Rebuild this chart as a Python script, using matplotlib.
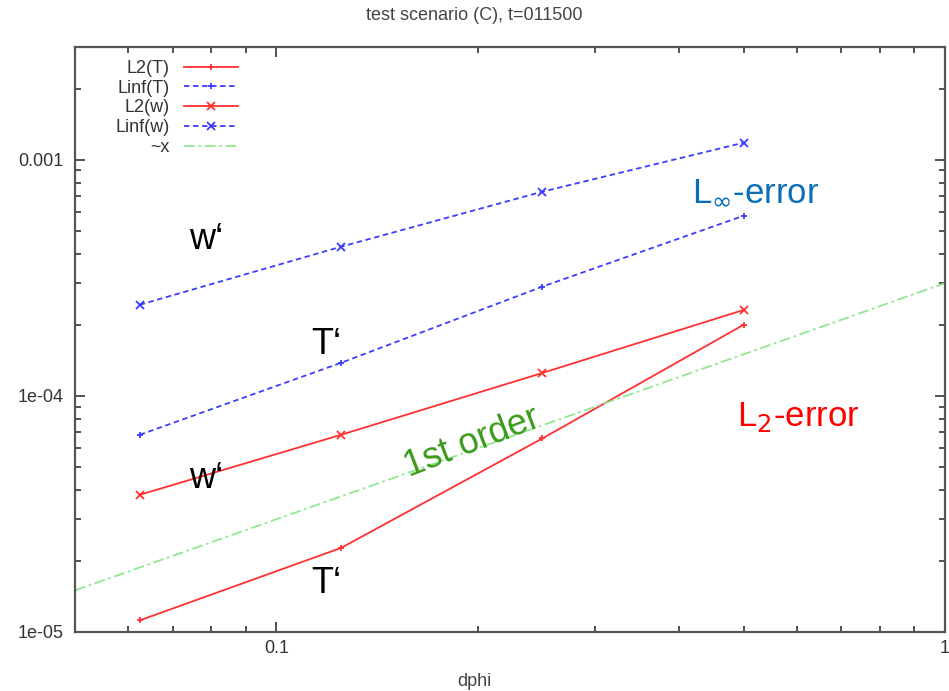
import numpy as np
import matplotlib.pyplot as plt
from matplotlib.ticker import FixedLocator, LogLocator, NullFormatter

plt.rcParams['font.family'] = ['Liberation Sans', 'DejaVu Sans']

# grid spacing and measured errors
dphi = [0.0625, 0.125, 0.25, 0.5]
l2_T = [1.12e-5, 2.27e-5, 6.6e-5, 2.0e-4]
linf_T = [6.84e-5, 1.38e-4, 2.90e-4, 5.79e-4]
l2_w = [3.81e-5, 6.84e-5, 1.25e-4, 2.31e-4]
linf_w = [2.43e-4, 4.28e-4, 7.32e-4, 1.18e-3]

# first order reference ~x
ref_x = [0.05, 1.0]
ref_coef = 3.0e-4

yticks = [1e-5, 1e-4, 1e-3]
ytick_labels = ['1e-05', '1e-04', '0.001']
xticks = [0.1, 1]
xtick_labels = ['0.1', '1']

fig = plt.figure(figsize=(9.49, 6.91), dpi=100)
ax = fig.add_axes([0.079, 0.0854, 0.9168, 0.8466])

red = '#ff3030'
blue = '#3c3cff'
green = '#90e890'

l1, = ax.plot(dphi, l2_T, '-', color=red, marker='+', ms=5, mew=1.3, lw=1.3, label='L2(T)')
l2, = ax.plot(dphi, linf_T, '--', color=blue, marker='+', ms=5, mew=1.3, lw=1.3,
              dashes=(3, 2), label='Linf(T)')
l3, = ax.plot(dphi, l2_w, '-', color=red, marker='x', ms=6, mew=1.3, lw=1.3, label='L2(w)')
l4, = ax.plot(dphi, linf_w, '--', color=blue, marker='x', ms=6, mew=1.3, lw=1.3,
              dashes=(3, 2), label='Linf(w)')
l5, = ax.plot(ref_x, [ref_coef * x for x in ref_x], color=green, lw=1.3,
              dashes=(6, 2, 1.5, 2), label='~x')

ax.set_xscale('log')
ax.set_yscale('log')
ax.set_xlim(0.05, 1)
ax.set_ylim(1e-5, 3e-3)

ax.xaxis.set_major_locator(FixedLocator(xticks))
ax.set_xticklabels(xtick_labels)
ax.yaxis.set_major_locator(FixedLocator(yticks))
ax.set_yticklabels(ytick_labels)
ax.xaxis.set_minor_locator(LogLocator(base=10, subs=np.arange(2, 10)))
ax.yaxis.set_minor_locator(LogLocator(base=10, subs=np.arange(2, 10)))
ax.xaxis.set_minor_formatter(NullFormatter())
ax.yaxis.set_minor_formatter(NullFormatter())

ax.tick_params(which='both', direction='in', top=True, right=True,
               labelsize=13, colors='#333333', width=1.2)
ax.tick_params(which='major', length=7)
ax.tick_params(which='minor', length=4)
ax.tick_params(axis='x', pad=6)
ax.tick_params(axis='y', pad=8)
for s in ax.spines.values():
    s.set_color('#555555')
    s.set_linewidth(1.6)

# title and x label are centred on the whole figure
fig.text(0.5, 1 - 16 / 691, 'test scenario (C), t=011500', fontsize=13,
         color='#444444', ha='center', va='center')
fig.text(0.5, 1 - 682 / 691, 'dphi', fontsize=13, color='#444444',
         ha='center', va='center')

leg = fig.legend(handles=[l1, l2, l3, l4, l5], loc='upper right',
                 bbox_to_anchor=(238 / 949, 1 - 60 / 691), frameon=False,
                 markerfirst=False, fontsize=13, handlelength=3.0,
                 handletextpad=0.8, labelspacing=0.15, borderpad=0,
                 borderaxespad=0)
for t in leg.get_texts():
    t.set_color('#333333')

# annotations
ax.text(0.074, 4.17e-4, 'w\u2018', fontsize=26)
ax.text(0.1128, 1.50e-4, 'T\u2018', fontsize=26)
ax.text(0.074, 4.06e-5, 'w\u2018', fontsize=26)
ax.text(0.1128, 1.46e-5, 'T\u2018', fontsize=26)
ax.text(0.158, 4.55e-5, '1st order', fontsize=26, color='#3a9a1a', rotation=21,
        rotation_mode='anchor')
ax.text(0.418, 6.65e-4, r'L$_{\infty}$-error', fontsize=25, color='#0a6fb8')
ax.text(0.489, 7.46e-5, r'L$_2$-error', fontsize=25, color='#ff0000')

fig.savefig('out.png', dpi=100)
